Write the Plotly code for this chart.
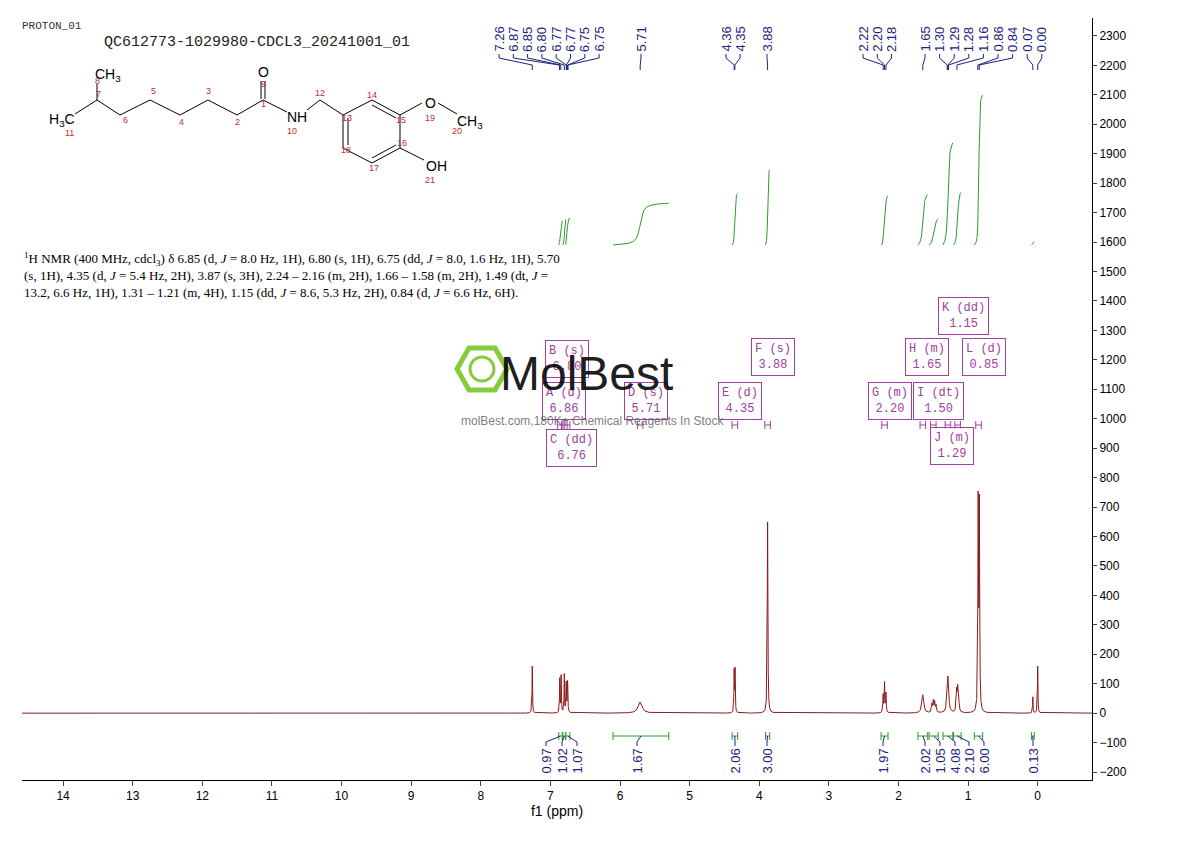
import numpy as np
import plotly.graph_objects as go

# peaks: ppm, height, half width (ppm)
peak_ppm = [7.26, 6.865, 6.845, 6.80, 6.775, 6.771, 6.755, 6.751, 5.71, 4.36, 4.347, 3.88,
            2.22, 2.20, 2.18, 1.65, 1.52, 1.50, 1.48, 1.46, 1.29, 1.165, 1.15, 1.135,
            0.855, 0.838, 0.07, 0.00]
peak_h = [160, 115, 125, 130, 60, 65, 70, 60, 38, 140, 145, 650,
          60, 100, 65, 62, 28, 38, 34, 24, 125, 70, 75, 52,
          700, 690, 55, 160]
peak_w = [0.004, 0.004, 0.004, 0.004, 0.004, 0.004, 0.004, 0.004, 0.035, 0.004, 0.004, 0.005,
          0.005, 0.005, 0.005, 0.016, 0.007, 0.007, 0.007, 0.007, 0.013, 0.007, 0.007, 0.007,
          0.005, 0.005, 0.004, 0.004]

# integrals: from ppm, to ppm, value, label centre px
int_from = [6.88, 6.82, 6.78, 6.10, 4.39, 3.91, 2.25, 1.72, 1.56, 1.36, 1.21, 0.91, 0.09]
int_to = [6.83, 6.78, 6.72, 5.30, 4.31, 3.85, 2.15, 1.58, 1.43, 1.22, 1.10, 0.79, 0.05]
int_val = [0.97, 1.02, 1.07, 1.67, 2.06, 3.00, 1.97, 2.02, 1.05, 4.08, 2.10, 6.00, 0.13]
int_lab_px = [546, 562, 577, 637, 735, 767, 883, 925, 940, 955, 969, 984, 1033]

# peak labels on top
lab_text = ["7.26", "6.87", "6.85", "6.80", "6.77", "6.77", "6.75", "6.75", "5.71", "4.36", "4.35", "3.88",
            "2.22", "2.20", "2.18", "1.65", "1.30", "1.29", "1.28", "1.16", "0.86", "0.84", "0.07", "0.00"]
lab_peak = [7.26, 6.87, 6.85, 6.80, 6.77, 6.77, 6.75, 6.75, 5.71, 4.36, 4.35, 3.88,
            2.22, 2.20, 2.18, 1.65, 1.30, 1.29, 1.28, 1.16, 0.86, 0.84, 0.07, 0.00]

# multiplet boxes
mult_text = ["B (s)<br>6.80", "A (d)<br>6.86", "D (s)<br>5.71", "C (dd)<br>6.76", "E (d)<br>4.35",
             "F (s)<br>3.88", "G (m)<br>2.20", "I (dt)<br>1.50", "H (m)<br>1.65", "L (d)<br>0.85",
             "K (dd)<br>1.15", "J (m)<br>1.29"]
mult_px = [(567, 359), (564, 401), (646, 401), (571, 448), (740, 401), (773, 357), (890, 401),
           (938, 401), (927, 357), (984, 357), (963, 316), (952, 446)]

L, R, T, B = 22, 1092, 18, 780   # plot area in reference pixels
OFF = 8                           # page body margin
X0, X1 = 14.59, -0.78
Y0, Y1 = -227, 2361


def px(xp):
    return X0 + (xp - L) / (R - L) * (X1 - X0)


def py(yp):
    return Y1 - (yp - T) / (B - T) * (Y1 - Y0)


def qx(xp):
    return (xp - L) / (R - L)


def qy(yp):
    return (B - yp) / (B - T)


x = np.linspace(X1, X0, 24000)
y = np.zeros_like(x)
for p, h, w in zip(peak_ppm, peak_h, peak_w):
    y += h * w ** 2 / ((x - p) ** 2 + w ** 2)

fig = go.Figure()
fig.add_trace(go.Scatter(x=x, y=y, mode="lines", line=dict(color="#8b1a1a", width=1), hoverinfo="skip"))

green = "#2e9a2e"
navy = "#1a237e"
shapes = []
annots = []
for a, b, v, lp in zip(int_from, int_to, int_val, int_lab_px):
    m = (x <= a) & (x >= b)
    xs = x[m][::-1]
    c = np.cumsum(y[m][::-1])
    c = 1590 + 85 * v * c / c[-1]
    fig.add_trace(go.Scatter(x=xs, y=c, mode="lines", line=dict(color=green, width=1), hoverinfo="skip"))
    shapes.append(dict(type="line", x0=a, x1=b, y0=py(736), y1=py(736), line=dict(color=green, width=1)))
    for e in (a, b):
        shapes.append(dict(type="line", x0=e, x1=e, y0=py(732), y1=py(740), line=dict(color=green, width=1)))
    mid = (a + b) / 2
    lx = px(lp)
    shapes.append(dict(type="path", path="M %f %f L %f %f L %f %f" % (mid, py(736), lx, py(742), lx, py(746)),
                       line=dict(color=navy, width=1)))
    annots.append(dict(x=lx, y=py(747), text="%.2f" % v, textangle=-90, showarrow=False,
                       xanchor="center", yanchor="top", font=dict(size=13, color=navy, family="Liberation Sans")))

# top peak labels
lab_x = [px(499 + 14.3 * i) for i in range(8)] + [px(641), px(726), px(740), px(767)] + \
        [px(863 + 14.3 * i) for i in range(3)] + [px(925 + 14.6 * i) for i in range(9)]
for t, lx, pk in zip(lab_text, lab_x, lab_peak):
    annots.append(dict(x=lx, y=py(25), text=t, textangle=-90, showarrow=False, xanchor="center", yanchor="top",
                       font=dict(size=13, color=navy, family="Liberation Sans")))
    shapes.append(dict(type="path", path="M %f %f L %f %f L %f %f L %f %f" % (
        lx, py(54), lx, py(58), pk, py(65), pk, py(70)), line=dict(color=navy, width=1)))

purple = "#a040a0"
for t, (cx, cy) in zip(mult_text, mult_px):
    annots.append(dict(x=px(cx), y=py(cy), text=t, showarrow=False, bordercolor=purple, borderwidth=1,
                       borderpad=3, bgcolor="rgba(255,255,255,0.6)", xanchor="center", yanchor="middle",
                       font=dict(size=12, color=purple, family="Liberation Mono")))
for p in [6.86, 6.80, 6.76, 5.71, 4.35, 3.88, 2.20, 1.65, 1.50, 1.29, 1.15, 0.85]:
    shapes.append(dict(type="line", x0=p + 0.04, x1=p - 0.04, y0=py(425), y1=py(425), line=dict(color=purple, width=1)))
    for e in (p + 0.04, p - 0.04):
        shapes.append(dict(type="line", x0=e, x1=e, y0=py(421), y1=py(429), line=dict(color=purple, width=1)))

# molecule, drawn in reference pixels
bonds = [((75, 114), (97, 100)), ((97, 100), (120, 115)), ((120, 115), (150, 100)), ((150, 100), (180, 115)),
         ((180, 115), (208, 100)), ((208, 100), (237, 115)), ((237, 115), (263, 100)), ((263, 100), (287, 112)),
         ((307, 110), (320, 100)), ((320, 100), (343, 115)), ((343, 115), (372, 100)), ((372, 100), (400, 115)),
         ((400, 115), (400, 148)), ((400, 148), (372, 163)), ((372, 163), (343, 148)), ((343, 148), (343, 115)),
         ((400, 115), (422, 103)), ((438, 103), (457, 114)), ((400, 148), (424, 160)), ((97, 100), (97, 84)),
         ((261, 99), (261, 81)), ((265, 99), (265, 81)), ((348, 118), (348, 145)), ((372, 105), (396, 118)),
         ((372, 158), (396, 145))]
for (a, b) in bonds:
    shapes.append(dict(type="line", xref="paper", yref="paper", x0=qx(a[0]), y0=qy(a[1]), x1=qx(b[0]), y1=qy(b[1]),
                       line=dict(color="black", width=1)))
atoms = [("H<sub>3</sub>C", 62, 120), ("CH<sub>3</sub>", 108, 75), ("O", 263, 72), ("NH", 297, 117),
         ("O", 430, 103), ("CH<sub>3</sub>", 470, 122), ("OH", 436, 166)]
for t, ax, ay in atoms:
    annots.append(dict(xref="paper", yref="paper", x=qx(ax), y=qy(ay), text=t, showarrow=False,
                       xanchor="center", yanchor="middle",
                       font=dict(size=14, color="black", family="Liberation Sans")))
nums = [("11", 70, 133), ("8", 97, 81), ("7", 98, 94), ("6", 125, 120), ("5", 153, 91), ("4", 181, 122),
        ("3", 208, 91), ("2", 237, 122), ("1", 263, 104), ("9", 263, 84), ("10", 292, 131), ("12", 320, 93),
        ("13", 347, 118), ("14", 372, 95), ("15", 401, 120), ("16", 402, 143), ("17", 374, 168),
        ("18", 346, 150), ("19", 430, 118), ("20", 457, 131), ("21", 430, 180)]
for t, ax, ay in nums:
    annots.append(dict(xref="paper", yref="paper", x=qx(ax), y=qy(ay), text=t, showarrow=False,
                       xanchor="center", yanchor="middle",
                       font=dict(size=9, color="#c03030", family="Liberation Sans")))

# header texts
annots.append(dict(xref="paper", yref="paper", x=qx(20), y=qy(26), text="PROTON_01", showarrow=False,
                   xanchor="left", yanchor="middle", font=dict(size=11, color="#333", family="Liberation Mono")))
annots.append(dict(xref="paper", yref="paper", x=qx(102), y=qy(43), text="QC612773-1029980-CDCL3_20241001_01",
                   showarrow=False, xanchor="left", yanchor="middle",
                   font=dict(size=15, color="#222", family="Liberation Mono")))
nmr = ["<sup>1</sup>H NMR (400 MHz, cdcl<sub>3</sub>) δ 6.85 (d, <i>J</i> = 8.0 Hz, 1H), 6.80 (s, 1H), 6.75 (dd, <i>J</i> = 8.0, 1.6 Hz, 1H), 5.70",
       "(s, 1H), 4.35 (d, <i>J</i> = 5.4 Hz, 2H), 3.87 (s, 3H), 2.24 – 2.16 (m, 2H), 1.66 – 1.58 (m, 2H), 1.49 (dt, <i>J</i> =",
       "13.2, 6.6 Hz, 1H), 1.31 – 1.21 (m, 4H), 1.15 (dd, <i>J</i> = 8.6, 5.3 Hz, 2H), 0.84 (d, <i>J</i> = 6.6 Hz, 6H)."]
annots.append(dict(xref="paper", yref="paper", x=qx(22), y=qy(248), text="<br>".join(nmr), showarrow=False,
                   xanchor="left", yanchor="top", align="left",
                   font=dict(size=13, color="black", family="Liberation Serif")))

# watermark
annots.append(dict(xref="paper", yref="paper", x=qx(586), y=qy(373), text="MolBest", showarrow=False,
                   xanchor="center", yanchor="middle",
                   font=dict(size=48, color="rgba(0,0,0,0.9)", family="Liberation Sans")))
annots.append(dict(xref="paper", yref="paper", x=qx(592), y=qy(421), text="molBest.com,180K+ Chemical Reagents In Stock",
                   showarrow=False, xanchor="center", yanchor="middle",
                   font=dict(size=12, color="rgba(90,90,90,0.8)", family="Liberation Sans")))
shapes.append(dict(type="path", xref="paper", yref="paper", line=dict(color="rgba(120,200,40,0.9)", width=5),
                   path="M %f %f L %f %f L %f %f L %f %f L %f %f L %f %f Z" % (
                       qx(469), qy(348), qx(495), qy(348), qx(507), qy(369), qx(495), qy(390),
                       qx(469), qy(390), qx(457), qy(369))))
shapes.append(dict(type="circle", xref="paper", yref="paper", x0=qx(470), x1=qx(494), y0=qy(381), y1=qy(357),
                   line=dict(color="rgba(120,200,40,0.9)", width=3)))

fig.update_layout(
    width=1190, height=841,
    margin=dict(l=L - OFF, r=1190 - R + OFF, t=T - OFF, b=841 - B + OFF, autoexpand=False),
    paper_bgcolor="white", plot_bgcolor="white", showlegend=False,
    shapes=shapes, annotations=annots,
    xaxis=dict(range=[X0, X1], tickvals=list(range(0, 15)), ticks="outside", ticklen=5, showgrid=False,
               zeroline=False, showline=True, linecolor="black", title=dict(text="f1 (ppm)", standoff=2),
               tickfont=dict(size=12, family="Liberation Sans")),
    yaxis=dict(range=[Y0, Y1], side="right", tickvals=list(range(-200, 2301, 100)), ticks="outside", ticklen=4,
               showgrid=False, zeroline=False, showline=True, linecolor="black",
               tickfont=dict(size=12, family="Liberation Sans")),
    font=dict(family="Liberation Sans", color="black"),
)
fig.write_html("out.html")
